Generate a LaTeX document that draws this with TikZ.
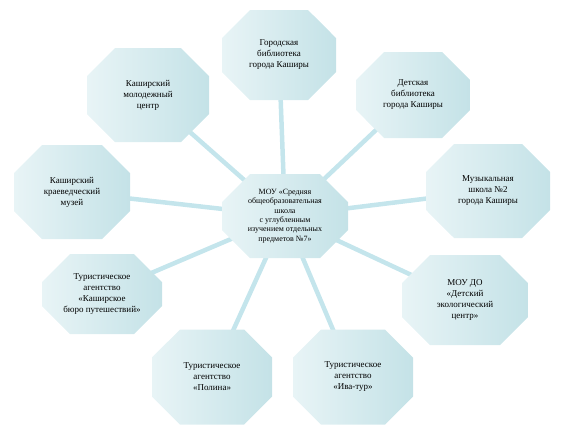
\documentclass[tikz,border=0pt]{standalone}
\usepackage{fontspec}
\setmainfont{Liberation Serif}
\usepackage{tikz}
\usetikzlibrary{shapes.misc, backgrounds}

\definecolor{boxlight}{RGB}{232,244,246}
\definecolor{boxdark}{RGB}{196,226,231}
\definecolor{linkcol}{RGB}{196,229,236}

\begin{document}
\begin{tikzpicture}[
    x=1pt, y=-1pt,
    font=\fontsize{9}{11}\selectfont,
    okno/.style={chamfered rectangle, chamfered rectangle xsep=14pt,
                 chamfered rectangle ysep=14pt, inner sep=0pt,
                 left color=boxlight, right color=boxdark, draw=none,
                 align=center, minimum width=118pt, minimum height=90pt},
    centr/.style={okno, minimum width=126pt, minimum height=84pt,
                  font=\fontsize{8}{9.3}\selectfont},
    svyaz/.style={draw=linkcol, line width=4.5pt}
  ]
    \useasboundingbox (0,0) rectangle (565,445);
    % центральный узел
    \node[centr] (shkola) at (285,216)
      {МОУ «Средняя\\ общеобразовательная\\ школа\\ с углубленным\\ изучением отдельных\\ предметов №7»};
    % партнёры
    \node[okno, minimum width=114pt] (gorbib) at (279,55)
      {Городская\\ библиотека\\ города Каширы};
    \node[okno, minimum width=114pt, minimum height=86pt] (detbib) at (413,95)
      {Детская\\ библиотека\\ города Каширы};
    \node[okno, minimum width=122pt, minimum height=94pt] (molod) at (148,95)
      {Каширский\\ молодежный\\ центр};
    \node[okno, minimum width=116pt, minimum height=94pt] (muzei) at (72,192)
      {Каширский\\ краеведческий\\ музей};
    \node[okno, minimum width=124pt, minimum height=94pt] (muzsh) at (488,191)
      {Музыкальная\\ школа №2\\ города Каширы};
    \node[okno, minimum width=120pt, minimum height=80pt] (buro) at (102,294)
      {Туристическое\\ агентство\\ «Каширское\\ бюро путешествий»};
    \node[okno, minimum width=126pt, minimum height=90pt] (ekol) at (465,300)
      {МОУ ДО\\ «Детский\\ экологический\\ центр»};
    \node[okno, minimum width=120pt, minimum height=95pt] (polina) at (212,377)
      {Туристическое\\ агентство\\ «Полина»};
    \node[okno, minimum width=120pt, minimum height=95pt] (ivatur) at (353,377)
      {Туристическое\\ агентство\\ «Ива-тур»};
    % связи
    \begin{scope}[on background layer]
      \foreach \n in {gorbib, detbib, molod, muzei, muzsh, buro, ekol, polina, ivatur}
        \draw[svyaz] (shkola.center) -- (\n.center);
    \end{scope}
  \end{tikzpicture}
\end{document}
